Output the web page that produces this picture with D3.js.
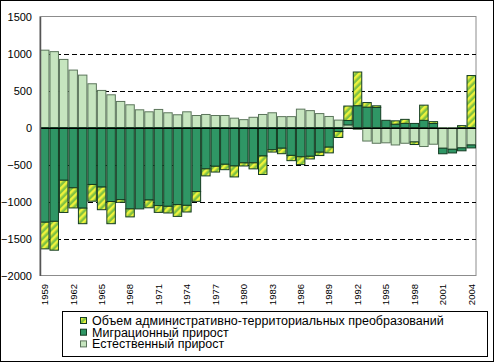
<!DOCTYPE html>
<html>
<head>
<meta charset="utf-8">
<script src="https://cdn.jsdelivr.net/npm/d3@7"></script>
<style>
  body { margin: 0; background: #fff; }
  svg { display: block; font-family: "Liberation Sans", Arial, sans-serif; }
</style>
</head>
<body>
<script>
// years 1959..2004
var years = d3.range(1959, 2005);

// естественный прирост
var natural = [1045, 1025, 920, 776, 708, 591, 501, 442, 352, 307, 239, 212, 244, 199, 172, 212,
               162, 176, 162, 162, 126, 106, 138, 176, 199, 147, 147, 248, 228, 188, 149,
               100, 35, -25, -183, -213, -207, -236, -213, -195, -257, -226, -280, -294, -275, -236];

// миграционный прирост
var migration = [-1280, -1268, -713, -815, -1090, -770, -805, -1000, -975, -1100, -1100, -980, -1055, -1065, -1042, -1052,
                 -866, -559, -524, -497, -520, -478, -478, -385, -300, -280, -377, -396, -389, -334, -266,
                 -55, 60, 295, 275, 271, 97, 45, 56, 55, 97, 54, -75, -50, -40, -40];

// объем административно-территориальных преобразований
var admin = [-360, -390, -435, -272, -210, -226, -306, -300, -36, -108, 0, -105, -92, -90, -159, -90,
             -132, -95, -78, -73, -148, -42, -81, -250, -32, -74, -71, -105, -36, -45, -77,
             -80, 195, 455, 62, 22, 0, 45, 54, -35, 205, 25, 0, 0, 25, 702];

var yTicks = [-2000, -1500, -1000, -500, 0, 500, 1000, 1500];
var gridDashed = [-1500, -1000, -500, 500, 1000];
var xLabels = years.filter(function(d) { return (d - 1959) % 3 === 0; });

var keys = ["natural", "migration", "admin"];
var legendNames = {
  admin: "Объем административно-территориальных преобразований",
  migration: "Миграционный прирост",
  natural: "Естественный прирост"
};

var rows = years.map(function(y, i) {
  return {year: y, natural: natural[i], migration: migration[i], admin: admin[i]};
});

var svg = d3.select("body").append("svg").attr("width", 495).attr("height", 363);

// hatch for admin series
var defs = svg.append("defs");
var pat = defs.append("pattern")
    .attr("id", "hatch")
    .attr("patternUnits", "userSpaceOnUse")
    .attr("width", 5).attr("height", 5)
    .attr("patternTransform", "rotate(45)");
pat.append("rect").attr("width", 5).attr("height", 5).attr("fill", "#80c242");
pat.append("rect").attr("width", 2.5).attr("height", 5).attr("fill", "#eef23c");

var fills = {natural: "#c6e5bf", migration: "#2f9665", admin: "url(#hatch)"};
var strokes = {natural: "#5b755b", migration: "#143c22", admin: "#143c22"};

// outer frame
svg.append("rect")
    .attr("x", 0.5).attr("y", 0.5).attr("width", 493).attr("height", 361)
    .attr("fill", "#fff").attr("stroke", "#000");

var plotLeft = 40, plotRight = 476, plotTop = 16.5, plotBottom = 275.5;

var x = d3.scaleBand().domain(years).range([plotLeft, plotRight]).padding(0);
var y = d3.scaleLinear().domain([-2000, 1500]).range([plotBottom, plotTop]);

// plot area border
svg.append("rect")
    .attr("x", plotLeft).attr("y", plotTop)
    .attr("width", plotRight - plotLeft).attr("height", plotBottom - plotTop)
    .attr("fill", "#fff").attr("stroke", "#8c8c8c");

// dashed grid
svg.append("g").selectAll("line")
  .data(gridDashed)
  .enter().append("line")
    .attr("x1", plotLeft).attr("x2", plotRight)
    .attr("y1", function(d) { return Math.round(y(d)) + 0.5; })
    .attr("y2", function(d) { return Math.round(y(d)) + 0.5; })
    .attr("stroke", "#000")
    .attr("stroke-dasharray", "5,3");

// stacked bars
var series = d3.stack().keys(keys).offset(d3.stackOffsetDiverging)(rows);

svg.append("g").selectAll("g")
  .data(series)
  .enter().append("g")
    .attr("fill", function(s) { return fills[s.key]; })
    .attr("stroke", function(s) { return strokes[s.key]; })
  .selectAll("rect")
  .data(function(s) { return s.filter(function(d) { return d[1] !== d[0]; }); })
  .enter().append("rect")
    .attr("x", function(d) { return x(d.data.year) + 0.5; })
    .attr("y", function(d) { return y(d[1]); })
    .attr("width", x.bandwidth() - 1)
    .attr("height", function(d) { return y(d[0]) - y(d[1]); });

// zero line
svg.append("line")
    .attr("x1", plotLeft).attr("x2", plotRight)
    .attr("y1", Math.round(y(0)) + 0.5).attr("y2", Math.round(y(0)) + 0.5)
    .attr("stroke", "#000");

// y axis
var yAxis = svg.append("g")
    .attr("transform", "translate(" + plotLeft + ",0)")
    .call(d3.axisLeft(y).tickValues(yTicks).tickSize(0).tickPadding(8).tickFormat(d3.format("d")));
yAxis.select(".domain").attr("stroke", "#555").attr("stroke-width", 1.5);
yAxis.selectAll("text").attr("font-size", 11).attr("font-family", "Liberation Sans, Arial, sans-serif").attr("fill", "#000");

// x labels
svg.append("g").selectAll("text")
  .data(xLabels)
  .enter().append("text")
    .attr("transform", function(d) { return "translate(" + (x(d) + x.bandwidth() / 2) + ",284) rotate(-90)"; })
    .attr("text-anchor", "end")
    .attr("dy", "0.35em")
    .attr("font-size", 9.5)
    .text(function(d) { return d; });

// legend
var lg = svg.append("g");
lg.append("rect")
    .attr("x", 62.5).attr("y", 311.5).attr("width", 425).attr("height", 45)
    .attr("fill", "#fff").attr("stroke", "#000");

var items = lg.selectAll("g.item")
  .data(["admin", "migration", "natural"])
  .enter().append("g")
    .attr("class", "item")
    .attr("transform", function(d, i) { return "translate(0," + (320.5 + i * 11.7) + ")"; });

items.append("rect")
    .attr("x", 80.5).attr("y", -3).attr("width", 6).attr("height", 6)
    .attr("fill", function(d) { return fills[d]; })
    .attr("stroke", function(d) { return strokes[d]; });

items.append("text")
    .attr("x", 92)
    .attr("dy", "0.36em")
    .attr("font-size", 12.5)
    .text(function(d) { return legendNames[d]; });
</script>
</body>
</html>
